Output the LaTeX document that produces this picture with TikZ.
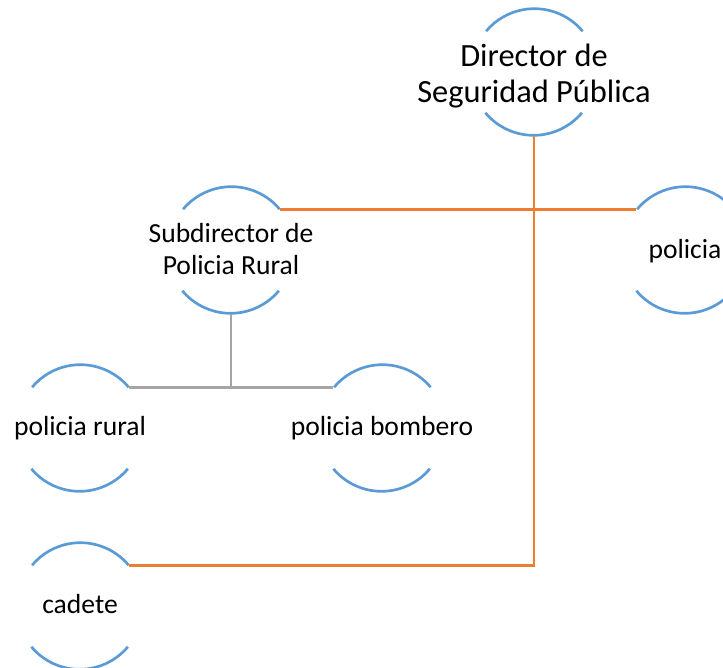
\documentclass[tikz,border=0pt]{standalone}
\usepackage{fontspec}
\setmainfont{Carlito}
\definecolor{ringblue}{RGB}{91,155,213}
\definecolor{linkorange}{RGB}{237,125,49}
\definecolor{linkgray}{RGB}{165,165,165}
\tikzset{every picture/.style={line width=0.75pt}}
\tikzset{
  ring/.style={circle, minimum size=94.5pt, inner sep=0pt, draw=none},
  arcline/.style={draw=ringblue, line width=2pt},
  orangelink/.style={draw=linkorange, line width=2.2pt},
  graylink/.style={draw=linkgray, line width=2pt},
  bigtext/.style={inner sep=0.75pt, align=center, font=\fontsize{24.3}{27}\selectfont},
  roletext/.style={inner sep=0.75pt, align=center, font=\fontsize{20.7}{23.3}\selectfont}
}

\begin{document}
\begin{tikzpicture}[x=0.75pt,y=0.75pt,yscale=-1,xscale=1]
\useasboundingbox (0,0) rectangle (723,667);

%Shape: Circle [id:director]
\node [ring] (dir) at (534,72) {};
%Shape: Circle [id:subdirector]
\node [ring] (sub) at (231,250) {};
%Shape: Circle [id:policia]
\node [ring] (pol) at (685,250) {};
%Shape: Circle [id:rural]
\node [ring] (rur) at (80,428) {};
%Shape: Circle [id:bombero]
\node [ring] (bom) at (382,428) {};
%Shape: Circle [id:cadete]
\node [ring] (cad) at (80,606) {};

%Arcs
\draw [arcline] (dir.40) arc [start angle=-40, end angle=-140, radius=63];
\draw [arcline] (dir.220) arc [start angle=-220, end angle=-320, radius=63];
\draw [arcline] (sub.40) arc [start angle=-40, end angle=-140, radius=63];
\draw [arcline] (sub.220) arc [start angle=-220, end angle=-320, radius=63];
\draw [arcline] (pol.40) arc [start angle=-40, end angle=-140, radius=63];
\draw [arcline] (pol.220) arc [start angle=-220, end angle=-320, radius=63];
\draw [arcline] (rur.40) arc [start angle=-40, end angle=-140, radius=63];
\draw [arcline] (rur.220) arc [start angle=-220, end angle=-320, radius=63];
\draw [arcline] (bom.40) arc [start angle=-40, end angle=-140, radius=63];
\draw [arcline] (bom.220) arc [start angle=-220, end angle=-320, radius=63];
\draw [arcline] (cad.40) arc [start angle=-40, end angle=-140, radius=63];
\draw [arcline] (cad.220) arc [start angle=-220, end angle=-320, radius=63];

%Straight Lines [orange]
\draw [orangelink] (sub.40) -- (pol.140) ;
\draw [orangelink] (dir.south) -- (dir.south |- cad.40) -- (cad.40) ;

%Straight Lines [gray]
\coordinate (split) at (sub.south |- rur.40);
\draw [graylink] (sub.south) -- (split) ;
\draw [graylink] (rur.40) -- (bom.140) ;

% Text Node
\node [bigtext] (dirtext) at (534,76) {Director de\\Seguridad Pública};
% Text Node
\node [roletext] (subtext) at (231,249) {Subdirector de\\Policia Rural};
% Text Node
\node [roletext] (poltext) at (685,251) {policia};
% Text Node
\node [roletext] (rurtext) at (80,428) {policia rural};
% Text Node
\node [roletext] (bomtext) at (382,428) {policia bombero};
% Text Node
\node [roletext] (cadtext) at (80,604) {cadete};

\end{tikzpicture}
\end{document}
